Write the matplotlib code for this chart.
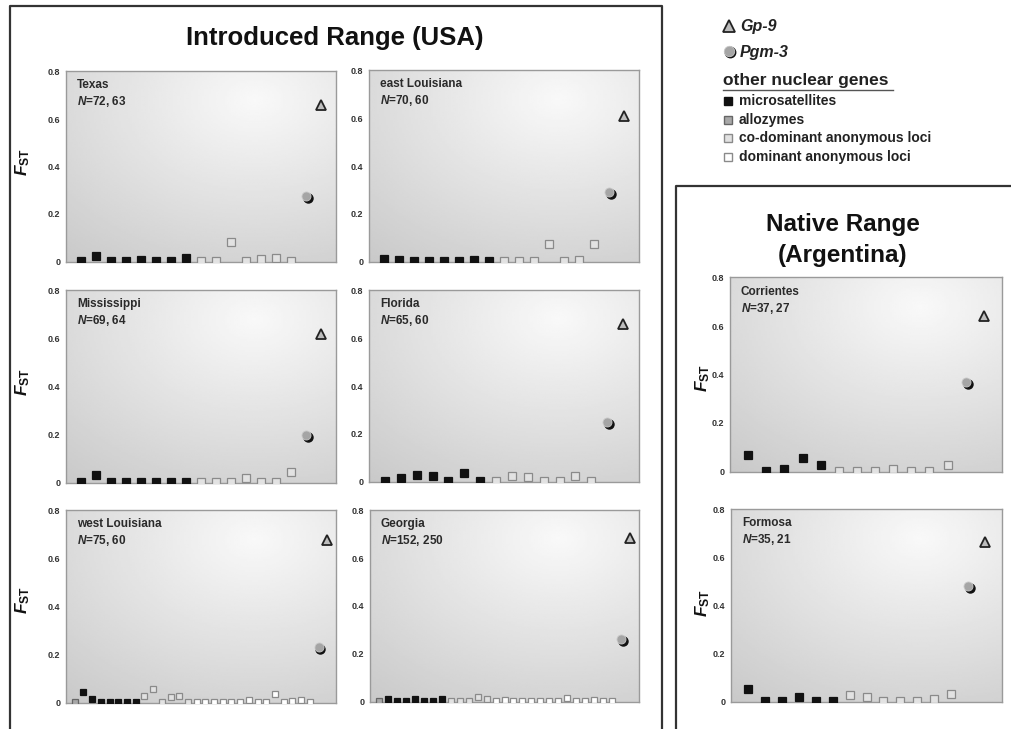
import matplotlib
matplotlib.use('Agg')
import matplotlib.pyplot as plt
import matplotlib.transforms as mtransforms
from matplotlib.lines import Line2D
import numpy as np

plt.rcParams['font.family'] = ['Liberation Sans', 'DejaVu Sans']
plt.rcParams['mathtext.fontset'] = 'custom'
plt.rcParams['mathtext.rm'] = 'Liberation Sans:bold'
plt.rcParams['mathtext.bf'] = 'Liberation Sans:bold'
plt.rcParams['mathtext.it'] = 'Liberation Sans:bold:italic'
plt.rcParams['mathtext.bfit'] = 'Liberation Sans:bold:italic'

# ---- data: FST per locus (squares), then Pgm-3 and Gp-9 ----
# kinds: m = microsatellite, a = allozyme, c = co-dominant anon., d = dominant anon.
texas_loci = [0, 0.02, 0, 0, 0.005, 0, 0, 0.015, 0, 0, 0.08, 0, 0.007, 0.012, 0]
texas_kind = 'mmmmmmmmccccccc'
texas_pgm3, texas_gp9 = 0.276, 0.66

eastla_loci = [0.008, 0.004, 0, 0, 0, 0, 0.003, 0, 0, 0, 0, 0.07, 0.002, 0.004, 0.073]
eastla_kind = 'mmmmmmmmccccccc'
eastla_pgm3, eastla_gp9 = 0.29, 0.612

miss_loci = [0, 0.03, 0, 0, 0, 0, 0, 0, 0, 0, 0, 0.017, 0, 0, 0.042]
miss_kind = 'mmmmmmmmccccccc'
miss_pgm3, miss_gp9 = 0.195, 0.619

florida_loci = [0, 0.011, 0.024, 0.023, 0, 0.033, 0, 0, 0.021, 0.018, 0, 0, 0.021, 0]
florida_kind = 'mmmmmmmccccccc'
florida_pgm3, florida_gp9 = 0.249, 0.66

westla_loci = [0, 0.044, 0.014, 0, 0, 0, 0, 0, 0.025, 0.055, 0, 0.021, 0.025, 0,
               0, 0, 0, 0.002, 0, 0, 0.008, 0, 0, 0.035, 0, 0.003, 0.01, 0]
westla_kind = 'ammmmmmmccccccdddddddddddddd'
westla_pgm3, westla_gp9 = 0.23, 0.68

georgia_loci = [0, 0.007, 0, 0, 0.007, 0, 0, 0.007, 0, 0, 0, 0.015, 0.007, 0,
                0.006, 0, 0, 0, 0, 0, 0, 0.014, 0, 0, 0.004, 0, 0]
georgia_kind = 'ammmmmmmcccccdddddddddddddd'
georgia_pgm3, georgia_gp9 = 0.26, 0.686

corr_loci = [0.068, 0, 0.008, 0.054, 0.026, 0, 0, 0, 0.01, 0, 0, 0.026]
corr_kind = 'mmmmmccccccc'
corr_pgm3, corr_gp9 = 0.367, 0.642

formosa_loci = [0.051, 0, 0, 0.018, 0, 0, 0.025, 0.015, 0, 0, 0, 0.007, 0.028]
formosa_kind = 'mmmmmmccccccc'
formosa_pgm3, formosa_gp9 = 0.48, 0.666

pop_names = ['Texas', 'east Louisiana', 'Mississippi', 'Florida',
             'west Louisiana', 'Georgia', 'Corrientes', 'Formosa']
pop_n = ['72, 63', '70, 60', '69, 64', '65, 60', '75, 60', '152, 250', '37, 27', '35, 21']
pop_loci = [texas_loci, eastla_loci, miss_loci, florida_loci,
            westla_loci, georgia_loci, corr_loci, formosa_loci]
pop_kind = [texas_kind, eastla_kind, miss_kind, florida_kind,
            westla_kind, georgia_kind, corr_kind, formosa_kind]
pop_pgm3 = [texas_pgm3, eastla_pgm3, miss_pgm3, florida_pgm3,
            westla_pgm3, georgia_pgm3, corr_pgm3, formosa_pgm3]
pop_gp9 = [texas_gp9, eastla_gp9, miss_gp9, florida_gp9,
           westla_gp9, georgia_gp9, corr_gp9, formosa_gp9]

# panel boxes in pixels (left, top, right, bottom)
W, H = 1012, 729
boxes = [(66, 71, 336, 262), (369, 70, 639, 262),
         (66, 290, 336, 483), (369, 290, 639, 482),
         (66, 510, 336, 703), (370, 510, 639, 702),
         (730, 277, 1002, 472), (731, 509, 1002, 702)]

kind_style = {
    'm': dict(mfc='#111111', mec='#111111'),
    'a': dict(mfc='#a8a8a8', mec='#666666'),
    'c': dict(mfc='#e2e2e2', mec='#8a8a8a'),
    'd': dict(mfc='#ffffff', mec='#8a8a8a'),
}


def px_rect(l, t, r, b):
    return [l / W, 1 - b / H, (r - l) / W, (b - t) / H]


fig = plt.figure(figsize=(W / 100, H / 100), dpi=100)

yy, xx = np.mgrid[0:1:120j, 0:1:120j]
bg = 0.975 - 0.17 * np.sqrt((xx - 0.7) ** 2 + (yy - 0.85) ** 2)

for i, box in enumerate(boxes):
    ax = fig.add_axes(px_rect(*box))
    loci = pop_loci[i]
    kinds = pop_kind[i]
    k = len(loci)
    ax.imshow(bg, cmap='gray', vmin=0, vmax=1, extent=[0, 1, 0, 1],
              transform=ax.transAxes, origin='lower', aspect='auto', zorder=0)

    sq = 3.7 if k > 20 else 5.3
    for j, v in enumerate(loci):
        ax.plot(j + 1, v, 's', ms=sq, mew=0.9, zorder=3, **kind_style[kinds[j]])

    # Pgm-3 circle with dark shadow
    shadow = mtransforms.offset_copy(ax.transData, fig=fig, x=1.3, y=-1.3, units='points')
    ax.plot(k + 1, pop_pgm3[i], 'o', ms=6.5, mfc='#111111', mec='#111111',
            transform=shadow, zorder=3)
    ax.plot(k + 1, pop_pgm3[i], 'o', ms=6.5, mfc='#a5a5a5',
            mec='#c8c8c8', mew=0.6, zorder=4)
    # Gp-9 triangle
    ax.plot(k + 2, pop_gp9[i], '^', ms=6.5, mfc='#bdbdbd', mec='#222222',
            mew=1.3, zorder=4)

    ax.set_xlim(0, k + 3)
    ax.set_ylim(-0.004, 0.804)
    ax.set_xticks([])
    ax.set_yticks([0, 0.2, 0.4, 0.6, 0.8])
    ax.set_yticklabels(['0', '0.2', '0.4', '0.6', '0.8'])
    ax.tick_params(axis='y', length=0, pad=4, labelsize=6.5, labelcolor='#333333')
    for lab in ax.get_yticklabels():
        lab.set_fontweight('bold')
    for sp in ax.spines.values():
        sp.set_color('#9a9a9a')
        sp.set_linewidth(1)

    ax.text(0.04, 0.925, pop_names[i], transform=ax.transAxes, fontsize=8.5,
            fontweight='bold', color='#2a2a2a', va='center', ha='left', zorder=5)
    ax.text(0.04, 0.84, r'$\mathit{N}$=' + pop_n[i], transform=ax.transAxes,
            fontsize=8.5, fontweight='bold', color='#2a2a2a', va='center',
            ha='left', zorder=5)

# FST axis labels
fst_pos = [(23, 162), (23, 382), (23, 600), (703, 378), (703, 603)]
for x, y in fst_pos:
    fig.text(x / W, 1 - y / H, r'$\mathit{F}_{\mathrm{ST}}$', rotation=90,
             fontsize=12.5, color='#111111', ha='center', va='center')

# titles
fig.text(335 / W, 1 - 38 / H, 'Introduced Range (USA)', fontsize=18.5,
         fontweight='bold', ha='center', va='center', color='#111111')
fig.text(843 / W, 1 - 240 / H, 'Native Range\n(Argentina)', fontsize=17.5,
         fontweight='bold', ha='center', va='center', color='#111111',
         linespacing=1.45)

# frames around the two ranges
frame_kw = dict(color='#333333', lw=1.6, transform=fig.transFigure)
fig.add_artist(Line2D([10 / W, 10 / W, 662 / W, 662 / W],
                      [0, 1 - 6 / H, 1 - 6 / H, 0], **frame_kw))
fig.add_artist(Line2D([1.0, 676 / W, 676 / W],
                      [1 - 186 / H, 1 - 186 / H, 0], **frame_kw))

# legend (top right)
fig.add_artist(Line2D([729 / W], [1 - 26 / H], marker='^', ms=8.5, mfc='#bdbdbd',
                      mec='#222222', mew=1.3, transform=fig.transFigure))
fig.text(740 / W, 1 - 26 / H, 'Gp-9', fontsize=11.5, fontweight='bold',
         fontstyle='italic', va='center', color='#222222')
fig.add_artist(Line2D([730 / W], [1 - 52 / H], marker='o', ms=7.5, mfc='#111111',
                      mec='#111111', transform=fig.transFigure))
fig.add_artist(Line2D([729 / W], [1 - 51 / H], marker='o', ms=7.5, mfc='#a5a5a5',
                      mec='#c8c8c8', mew=0.6, transform=fig.transFigure))
fig.text(740 / W, 1 - 52 / H, 'Pgm-3', fontsize=11.5, fontweight='bold',
         fontstyle='italic', va='center', color='#222222')
fig.text(723 / W, 1 - 80 / H, 'other nuclear genes', fontsize=12.5,
         fontweight='bold', va='center', color='#222222')
fig.add_artist(Line2D([723 / W, 893 / W], [1 - 90 / H, 1 - 90 / H],
                      color='#555555', lw=1, transform=fig.transFigure))
leg_labels = ['microsatellites', 'allozymes', 'co-dominant anonymous loci',
              'dominant anonymous loci']
leg_kinds = ['m', 'a', 'c', 'd']
leg_y = [101, 120, 138, 157]
for lab, kd, y in zip(leg_labels, leg_kinds, leg_y):
    fig.add_artist(Line2D([728 / W], [1 - y / H], marker='s', ms=6, mew=1,
                          transform=fig.transFigure, **kind_style[kd]))
    fig.text(739 / W, 1 - y / H, lab, fontsize=10, fontweight='bold',
             va='center', color='#222222')

fig.savefig('out.png', dpi=100)
